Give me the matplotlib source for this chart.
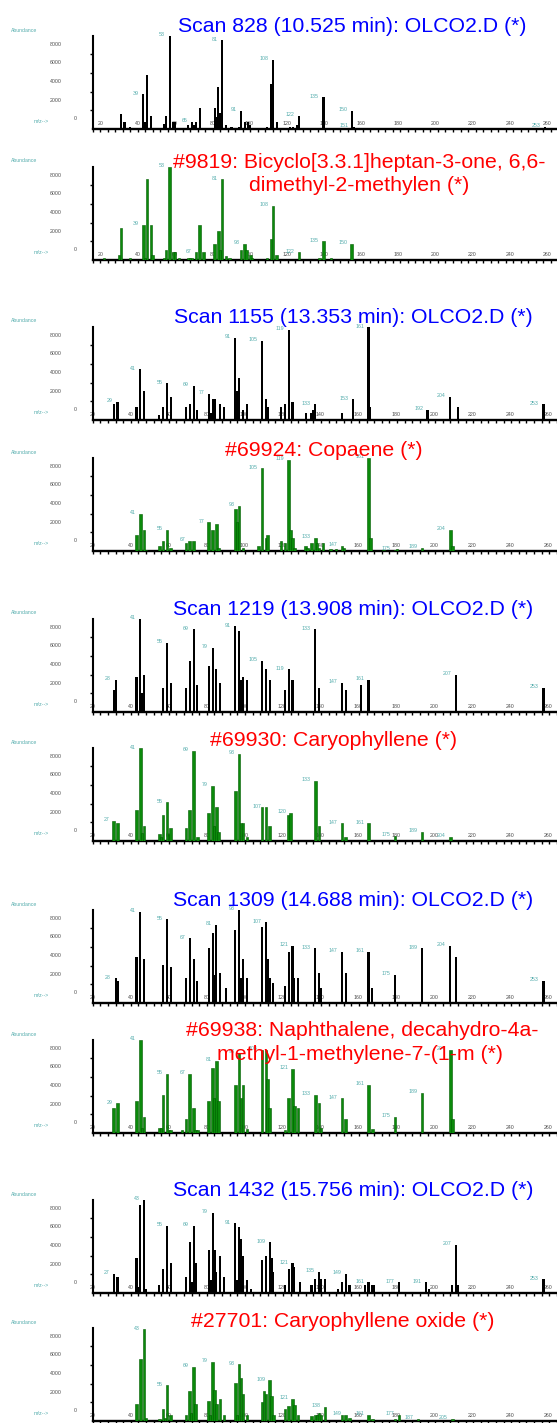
import matplotlib
matplotlib.use("Agg")
import matplotlib.pyplot as plt
from matplotlib.ticker import MultipleLocator, FixedLocator

plt.rcParams['font.family'] = ['Liberation Sans', 'DejaVu Sans']

# ---------------- data ----------------
titles = [
    ["Scan 828 (10.525 min): OLCO2.D (*)"],
    ["#9819: Bicyclo[3.3.1]heptan-3-one, 6,6-", "dimethyl-2-methylen (*)"],
    ["Scan 1155 (13.353 min): OLCO2.D (*)"],
    ["#69924: Copaene (*)"],
    ["Scan 1219 (13.908 min): OLCO2.D (*)"],
    ["#69930: Caryophyllene (*)"],
    ["Scan 1309 (14.688 min): OLCO2.D (*)"],
    ["#69938: Naphthalene, decahydro-4a-", "methyl-1-methylene-7-(1-m (*)"],
    ["Scan 1432 (15.756 min): OLCO2.D (*)"],
    ["#27701: Caryophyllene oxide (*)"],
]

scan828_mz = [27, 29, 32, 39, 40, 41, 43, 50, 51, 53, 55, 56, 63, 65, 66, 67, 69, 77, 78, 79, 80, 81, 83, 86,
              90, 91, 93, 95, 96, 105, 107, 108, 110, 117, 119, 121, 122, 135, 150, 151, 253]
scan828_ab = [1630, 800, 180, 3690, 800, 5760, 1340, 500, 1340, 10000, 800, 800, 430, 800, 430, 800, 2240,
              2240, 1300, 4500, 1700, 9480, 430, 220, 220, 1950, 800, 800, 430, 200, 4850, 7400, 760,
              220, 220, 430, 1380, 3400, 1950, 200, 220]
scan828_lab = [39, 53, 65, 81, 91, 108, 122, 135, 150, 151, 253]

lib9819_mz = [18, 26, 27, 32, 39, 40, 41, 43, 44, 50, 51, 53, 55, 56, 58, 63, 64, 65, 67, 69, 71, 77, 79, 80,
              81, 83, 85, 91, 93, 94, 96, 97, 105, 107, 108, 110, 122, 133, 135, 139, 150]
lib9819_ab = [180, 540, 3440, 180, 3730, 180, 8610, 3730, 540, 220, 1090, 10000, 830, 830, 220, 250, 250,
              250, 830, 3730, 830, 1700, 3080, 1090, 8610, 470, 220, 1090, 1700, 1090, 540, 220, 220,
              2280, 5790, 540, 830, 180, 1990, 250, 1700]
lib9819_lab = [39, 53, 67, 81, 93, 108, 122, 135, 150]

scan1155_mz = [27, 29, 39, 41, 43, 51, 53, 55, 57, 65, 67, 69, 71, 77, 78, 79, 80, 83, 85, 91, 92, 93, 95,
               97, 105, 107, 108, 115, 117, 119, 121, 128, 131, 132, 133, 147, 153, 161, 162, 192, 204,
               208, 253]
scan1155_ab = [1680, 1960, 1360, 5420, 3100, 535, 1360, 3920, 2500, 1360, 1680, 3640, 1070, 2780, 780,
               2210, 2210, 1680, 1360, 8800, 3100, 4530, 1070, 1680, 8490, 2210, 1360, 1430, 1680, 9630,
               1960, 780, 780, 1070, 1680, 780, 2210, 9900, 1360, 1070, 2500, 1360, 1680]
scan1155_lab = [29, 41, 55, 69, 77, 91, 105, 119, 133, 153, 161, 192, 204, 253]

lib69924_mz = [39, 41, 43, 44, 51, 53, 55, 57, 65, 67, 69, 77, 79, 81, 82, 91, 92, 93, 95, 103, 105, 107,
               108, 115, 117, 119, 120, 121, 122, 128, 129, 131, 133, 134, 135, 137, 141, 144, 147, 148,
               161, 162, 169, 175, 176, 189, 204, 205]
lib69924_ab = [1710, 3960, 2250, 160, 535, 1100, 2250, 290, 820, 1100, 1100, 3070, 2250, 2850, 290, 4530,
               3070, 4810, 290, 535, 8850, 1430, 1710, 1100, 820, 9740, 2250, 1430, 290, 535, 290, 820,
               1430, 820, 290, 820, 200, 200, 535, 290, 9980, 1430, 150, 100, 200, 300, 2250, 535]
lib69924_lab = [41, 55, 67, 77, 93, 105, 119, 133, 147, 161, 175, 189, 204]

scan1219_mz = [27, 28, 39, 41, 42, 43, 53, 55, 57, 65, 67, 69, 71, 77, 79, 81, 83, 91, 93, 94, 95, 97,
               105, 107, 109, 117, 119, 121, 133, 135, 147, 149, 157, 161, 207, 253]
scan1219_ab = [2320, 3460, 3750, 9950, 2030, 4000, 2570, 7420, 3140, 2600, 5460, 8850, 2850, 4890, 6880,
               4570, 3140, 9170, 8630, 3390, 3750, 3460, 5460, 4570, 3460, 2320, 4570, 3460, 8850, 2570,
               3140, 2320, 2850, 3460, 3990, 2600]
scan1219_lab = [28, 41, 55, 69, 79, 91, 105, 119, 133, 147, 161, 207, 253]

lib69930_mz = [27, 29, 39, 41, 42, 43, 51, 52, 53, 55, 56, 57, 65, 67, 69, 71, 77, 79, 80, 81, 82, 91, 93,
               94, 95, 97, 105, 107, 109, 119, 120, 133, 135, 147, 149, 161, 175, 189, 204]
lib69930_ab = [2180, 1890, 3320, 9900, 820, 1600, 710, 400, 2780, 4140, 710, 1360, 1360, 3320, 9630, 400,
               3030, 5890, 1600, 3600, 1000, 5350, 9310, 1890, 1890, 400, 3600, 3600, 1600, 2780, 3030,
               6460, 1600, 1890, 400, 1890, 570, 1000, 460]
lib69930_lab = [27, 41, 55, 69, 79, 93, 107, 120, 133, 147, 161, 175, 189, 204]

scan1309_mz = [28, 29, 39, 41, 43, 53, 55, 57, 65, 67, 69, 71, 77, 79, 80, 81, 83, 86, 91, 93, 94, 95, 97,
               105, 107, 108, 109, 111, 117, 119, 121, 122, 124, 133, 135, 136, 147, 149, 161, 163, 175,
               189, 204, 207, 253]
scan1309_ab = [2640, 2390, 4960, 9770, 4670, 4070, 8950, 3820, 2640, 6920, 4670, 2390, 5850, 7530, 3000,
               8350, 3250, 1570, 7810, 10000, 2640, 4670, 2640, 8100, 8630, 4670, 2640, 2100, 1820, 5490,
               6100, 2640, 2640, 5850, 3250, 1570, 5490, 3250, 5490, 1570, 3000, 5850, 6100, 4960, 2390]
scan1309_lab = [28, 41, 55, 67, 81, 93, 107, 121, 133, 147, 161, 175, 189, 204, 253]

lib69938_mz = [27, 29, 39, 41, 42, 43, 51, 52, 53, 55, 56, 57, 63, 65, 67, 69, 70, 71, 77, 79, 80, 81, 82,
               91, 93, 94, 95, 97, 105, 107, 108, 109, 117, 119, 121, 122, 124, 133, 135, 136, 147, 149,
               161, 163, 175, 189, 204, 205]
lib69938_ab = [2640, 3170, 3460, 10000, 500, 1750, 570, 570, 4070, 6310, 300, 300, 300, 1460, 6310, 2640,
               300, 300, 3460, 6920, 3710, 7740, 3460, 5140, 8600, 3710, 5140, 400, 8880, 8880, 5740,
               2640, 300, 3710, 6850, 2890, 2640, 4070, 3170, 500, 3710, 1460, 5140, 400, 1750, 4320,
               8880, 1460]
lib69938_lab = [29, 41, 55, 67, 81, 93, 105, 121, 133, 147, 161, 175, 189, 204]

scan1432_mz = [27, 29, 39, 40, 41, 43, 44, 51, 53, 55, 57, 65, 67, 68, 69, 70, 77, 78, 79, 80, 81, 83, 85,
               91, 92, 93, 94, 95, 97, 99, 105, 107, 109, 110, 111, 117, 119, 121, 122, 125, 131, 133,
               135, 136, 138, 145, 147, 149, 151, 159, 161, 163, 164, 177, 191, 193, 205, 207, 208, 253]
scan1432_ab = [2030, 1750, 3780, 600, 9420, 10000, 400, 860, 2570, 7170, 3170, 1750, 5420, 1210, 7170,
               3170, 4600, 1390, 8600, 4600, 2280, 3960, 1750, 7460, 1390, 7100, 5740, 3960, 1390, 400,
               3530, 3960, 5420, 3710, 2280, 860, 2570, 3170, 2820, 1140, 860, 1460, 2280, 1460, 1460,
               400, 1140, 2030, 860, 860, 1140, 860, 860, 1140, 1140, 400, 860, 5140, 860, 1460]
scan1432_lab = [27, 43, 55, 69, 79, 91, 109, 121, 135, 149, 161, 177, 191, 207, 253]

lib27701_mz = [39, 41, 43, 44, 51, 53, 54, 55, 57, 65, 67, 68, 69, 70, 77, 78, 79, 80, 81, 83, 85, 91, 92,
               93, 94, 95, 97, 105, 106, 107, 109, 110, 111, 117, 119, 121, 122, 124, 131, 133, 134, 135,
               136, 138, 147, 149, 151, 161, 163, 175, 177, 187, 205]
lib27701_ab = [1780, 6670, 9810, 300, 200, 1250, 300, 3820, 640, 640, 3210, 890, 5810, 1780, 2140, 640,
               6350, 3320, 1780, 2390, 640, 4100, 640, 6060, 4640, 2850, 640, 2070, 3210, 2850, 4350,
               2680, 640, 1250, 1610, 2390, 1680, 640, 500, 640, 640, 890, 640, 1530, 640, 640, 300, 640,
               200, 200, 640, 250, 200]
lib27701_lab = [43, 55, 69, 79, 93, 109, 121, 138, 149, 161, 177, 187, 205]

x_tick_values = [20, 40, 60, 80, 100, 120, 140, 160, 180, 200, 220, 240, 260]
y_tick_values = [2000, 4000, 6000, 8000]

panels = [
    (scan828_mz, scan828_ab, scan828_lab),
    (lib9819_mz, lib9819_ab, lib9819_lab),
    (scan1155_mz, scan1155_ab, scan1155_lab),
    (lib69924_mz, lib69924_ab, lib69924_lab),
    (scan1219_mz, scan1219_ab, scan1219_lab),
    (lib69930_mz, lib69930_ab, lib69930_lab),
    (scan1309_mz, scan1309_ab, scan1309_lab),
    (lib69938_mz, lib69938_ab, lib69938_lab),
    (scan1432_mz, scan1432_ab, scan1432_lab),
    (lib27701_mz, lib27701_ab, lib27701_lab),
]

# ---------------- layout (pixels) ----------------
W, H = 557, 1423
AX_LEFT = 92.5
AX_H = 93.5
YMAX = 10000
baselines = [129, 260, 420, 551, 712, 841, 1003, 1133, 1293, 1421]
title_cy = [[24], [160, 183.5], [315], [448], [607], [738], [898], [1028, 1052.5], [1188], [1319]]
title_cx = [[352.5], [359, 359.5], [353], [324], [353.5], [333.5], [353.5], [362.4, 360.4], [353.5], [343]]
# x-scale per panel: (reference m/z, pixel, px per m/z) for bars; label scale
bar_map = [(39, 143.3, 1.877)] * 2 + [(41, 140.3, 1.902)] * 8
lab_map = [(40, 138.0, 1.858)] * 2 + [(40, 130.4, 1.897)] * 8

BLUE, RED = '#0000ff', '#ff0000'
TEAL = '#55adad'
GREY = '#4d4d4d'
SMALL = 3.8
TITLE_FS = 15.3
PT = 72.0 / 100.0  # points per pixel

fig = plt.figure(figsize=(W / 100, H / 100), dpi=100)


def ftext(xpx, ypx, s, **kw):
    fig.text(xpx / W, 1 - ypx / H, s, **kw)


for i, (mz, ab, lab) in enumerate(panels):
    b = baselines[i]
    top = b - AX_H
    ax = fig.add_axes([AX_LEFT / W, (H - b) / H, (W - AX_LEFT) / W, AX_H / H])
    ax.patch.set_alpha(0)
    ref, refpx, sc = bar_map[i]
    x0 = ref + (AX_LEFT - refpx) / sc
    x1 = ref + (W - refpx) / sc
    ax.set_xlim(x0, x1)
    ax.set_ylim(0, YMAX)
    lib = (i % 2 == 1)
    if lib:
        ax.bar(mz, ab, width=1.35, color='#0b8a0b', edgecolor='#005a00', linewidth=0.4, zorder=3)
    else:
        ax.bar(mz, ab, width=1.1, color='black', linewidth=0, zorder=3)
    for s in ['top', 'right']:
        ax.spines[s].set_visible(False)
    ax.spines['left'].set_linewidth(1.5)
    ax.spines['bottom'].set_linewidth(1.7)
    ax.spines['left'].set_zorder(5)
    ax.xaxis.set_major_locator(MultipleLocator(4))
    ax.yaxis.set_major_locator(FixedLocator(y_tick_values))
    ax.tick_params(axis='both', direction='out', length=2, width=1.0,
                   labelbottom=False, labelleft=False)

    # peak labels
    vals = dict(zip(mz, ab))
    for m in lab:
        ax.annotate(str(m), xy=(m, vals.get(m, 0)), xytext=(-4.5 * PT, -0.3 * PT),
                    textcoords='offset points', ha='right', va='baseline',
                    fontsize=SMALL, color=TEAL, zorder=4)

    # x tick labels (drawn under the bars)
    lref, lpx, lsc = lab_map[i]
    for t in x_tick_values:
        xpx = lpx + (t - lref) * lsc
        xd = x0 + (xpx - AX_LEFT) / sc
        ax.text(xd, 0, str(t), transform=ax.get_xaxis_transform() if False else ax.transData,
                fontsize=SMALL, color=GREY, ha='center', va='baseline', zorder=2)
    # shift tick labels up: re-place via offset
    for txt in ax.texts:
        pass

    # y tick labels and decorations (figure pixels)
    for v in y_tick_values:
        ypx = b - v * AX_H / YMAX - 8.6
        ftext(62, ypx, str(v), fontsize=SMALL, color=GREY, ha='right', va='baseline')
    ftext(75.3, b - 9, "0", fontsize=SMALL, color=GREY, ha='center', va='baseline')
    ftext(41.5, b - 6.2, "m/z-->", fontsize=SMALL, color=TEAL, ha='center', va='baseline')
    ftext(23.8, top - 4, "Abundance", fontsize=SMALL - 0.1, color=TEAL, ha='center', va='baseline')

    # titles
    for line, cy, cx in zip(titles[i], title_cy[i], title_cx[i]):
        ftext(cx, cy + 7.6, line, fontsize=TITLE_FS, color=RED if lib else BLUE,
              ha='center', va='baseline', zorder=10)

# move x tick labels to sit ~3.6 px above the axis line
import matplotlib.transforms as mtransforms
for ax in fig.axes:
    for txt in ax.texts:
        txt.set_transform(ax.transData + mtransforms.Affine2D().translate(0, 3.6))

fig.savefig("out.png", dpi=100)
